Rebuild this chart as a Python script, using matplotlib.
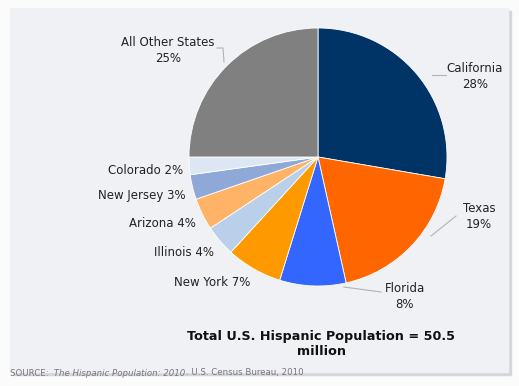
import matplotlib
matplotlib.use("Agg")
import matplotlib.pyplot as plt
from matplotlib.patches import Rectangle

# data (share of U.S. Hispanic population, 2010)
states = ["California", "Texas", "Florida", "New York", "Illinois",
          "Arizona", "New Jersey", "Colorado", "All Other States"]
shares = [27.7, 18.8, 8.3, 7.0, 3.9, 4.0, 3.1, 2.2, 25.0]
pct_labels = ["28%", "19%", "8%", "7%", "4%", "4%", "3%", "2%", "25%"]
colors = ["#003366", "#ff6600", "#3366ff", "#ff9900", "#b9cfea",
          "#ffb366", "#8ea8d8", "#dde7f3", "#808080"]

W, H = 519, 386
fig = plt.figure(figsize=(W / 100, H / 100), dpi=100)
fig.patch.set_facecolor("#fbfbfb")

def fx(px):
    return px / W

def fy(py):
    return 1 - py / H

# panel with a soft shadow
fig.patches.append(Rectangle((fx(13), fy(375)), fx(498), 364 / H,
                             transform=fig.transFigure, color="#d4d6d9", zorder=-2))
fig.patches.append(Rectangle((fx(10), fy(372)), fx(498), 364 / H,
                             transform=fig.transFigure, color="#eff1f4", zorder=-1))

# pie axes: center (318,157) px, radius 129 px
cx, cy, r = 318, 157, 129
ax = fig.add_axes([fx(cx - r), fy(cy + r), 2 * r / W, 2 * r / H])
ax.set_zorder(2)
ax.pie(shares, colors=colors, startangle=90, counterclock=False, radius=1,
       wedgeprops=dict(edgecolor="white", linewidth=0.6))
ax.set_xlim(-1, 1)
ax.set_ylim(-1, 1)
ax.set_axis_off()

# labels
txt = dict(fontsize=8.5, color="#222222", family="DejaVu Sans")
two_line = {"California": (475, 76), "Texas": (479, 216),
            "Florida": (405, 297), "All Other States": (168, 50)}
one_line = {"Colorado": (183, 170), "New Jersey": (186, 195),
            "Arizona": (196, 223), "Illinois": (214, 253),
            "New York": (250, 283)}
for name, pct in zip(states, pct_labels):
    if name in two_line:
        x, y = two_line[name]
        fig.text(fx(x), fy(y), name + "\n" + pct, ha="center", va="center",
                 linespacing=1.3, **txt)
    else:
        x, y = one_line[name]
        fig.text(fx(x), fy(y), name + " " + pct, ha="right", va="center", **txt)

# leader lines
lc = "#b0b3b8"
for seg in [[(432, 75), (446, 75)], [(431, 236), (456, 216)],
            [(344, 287), (381, 292)], [(217, 48), (223, 48), (224, 62)]]:
    xs = [fx(p[0]) for p in seg]
    ys = [fy(p[1]) for p in seg]
    fig.add_artist(plt.Line2D(xs, ys, color=lc, lw=0.8, transform=fig.transFigure))

fig.text(fx(321), fy(344), "Total U.S. Hispanic Population = 50.5\nmillion",
         ha="center", va="center", fontsize=9.2, fontweight="bold",
         color="#111111", linespacing=1.15)

src = dict(fontsize=6.2, color="#777777", va="center", ha="left")
t1 = fig.text(fx(10), fy(373), "SOURCE: ", **src)
t2 = fig.text(0, 0, " The Hispanic Population: 2010", style="italic", **src)
t3 = fig.text(0, 0, ". U.S. Census Bureau, 2010", **src)
ren = fig.canvas.get_renderer()
bb1 = t1.get_window_extent(ren)
t2.set_position((bb1.x1 / W, fy(373)))
bb2 = t2.get_window_extent(ren)
t3.set_position((bb2.x1 / W, fy(373)))

fig.savefig("out.png", dpi=100, facecolor=fig.get_facecolor())
